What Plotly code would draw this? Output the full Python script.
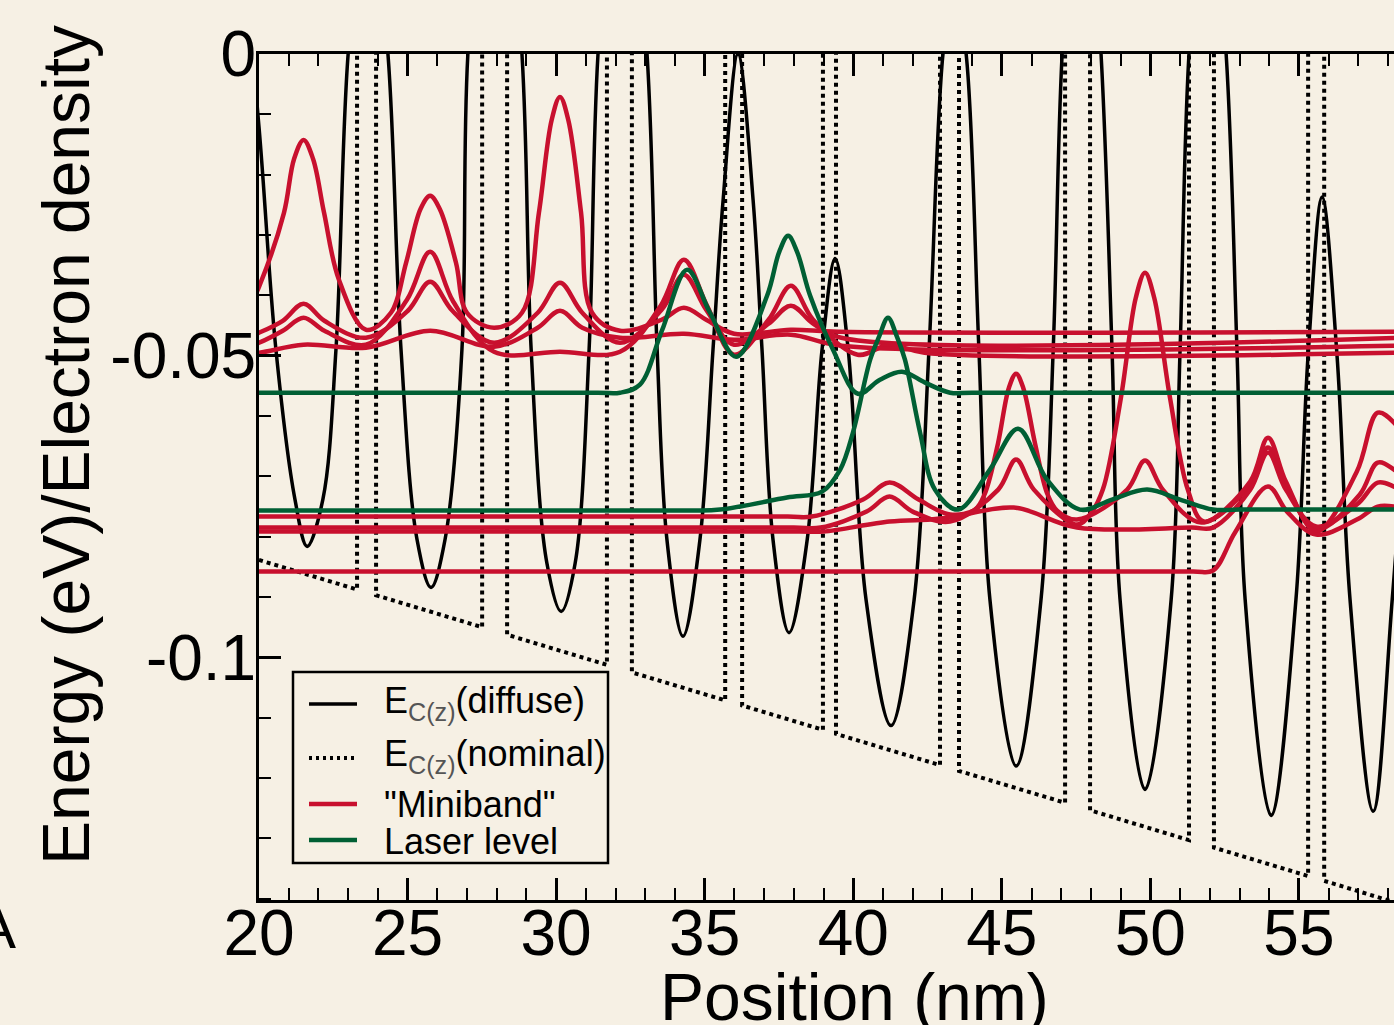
import plotly.graph_objects as go

# ---------------- data ----------------
# Diffuse conduction-band edge E_C(z): position (nm), energy (eV)
diffuse_x = [19.19, 20.00, 20.57, 21.21, 21.62, 22.15, 22.59, 23.00, 23.67, 24.34, 24.78, 25.32, 25.79,
             26.26, 26.83, 27.03, 27.94, 28.85, 29.16, 29.69, 30.17, 30.64, 31.11, 31.41, 32.22, 33.06,
             33.40, 33.73, 34.27, 34.84, 35.28, 35.62, 36.12, 36.63, 36.93, 37.30, 37.84, 38.45, 38.95,
             39.39, 39.83, 40.43, 41.27, 42.05, 42.55, 43.02, 43.39, 43.80, 44.23, 44.60, 45.48, 46.32,
             46.73, 47.03, 47.67, 48.34, 48.71, 48.98, 49.82, 50.70, 51.00, 51.30, 51.91, 52.55, 52.92,
             53.19, 54.06, 54.90, 55.31, 55.78, 56.28, 56.72, 57.50, 58.14, 58.74]
diffuse_y = [0.030, -0.0121, -0.0490, -0.0738, -0.0816, -0.0738, -0.0490, 0.0, 0.030, 0.0, -0.0490,
             -0.0805, -0.0884, -0.0805, -0.0490, 0.0, 0.050, 0.0, -0.0490, -0.0844, -0.0924, -0.0844,
             -0.0490, 0.0, 0.045, 0.0, -0.0490, -0.0805, -0.0965, -0.0805, -0.0490, -0.0242, 0.0,
             -0.0242, -0.0490, -0.0805, -0.0959, -0.0805, -0.0490, -0.0339, -0.0490, -0.0904, -0.1113,
             -0.0904, -0.0490, 0.0, 0.012, 0.0, -0.0490, -0.0904, -0.1180, -0.0904, -0.0490, 0.0, 0.045,
             0.0, -0.0490, -0.0904, -0.1219, -0.0904, -0.0490, 0.0, 0.035, 0.0, -0.0498, -0.0904,
             -0.1262, -0.0904, -0.0498, -0.0237, -0.0498, -0.0904, -0.1255, -0.0904, -0.0490]

# Nominal conduction-band edge (piecewise, barrier tops lie above the plotted window)
nominal_x = [20.0, 23.30, 23.30, 23.94, 23.94, 27.51, 27.51, 28.35, 28.35, 31.71, 31.71, 32.55, 32.55,
             35.69, 35.69, 36.26, 36.26, 38.98, 38.98, 39.42, 39.42, 42.92, 42.92, 43.56, 43.56, 47.13,
             47.13, 47.97, 47.97, 51.30, 51.30, 52.14, 52.14, 55.31, 55.31, 55.85, 55.85, 58.50]
nominal_y = [-0.08386, -0.08874, 0.15, 0.15, -0.08970, -0.09499, 0.15, 0.15, -0.09624, -0.10123, 0.15,
             0.15, -0.10248, -0.10712, 0.15, 0.15, -0.10796, -0.11200, 0.15, 0.15, -0.11267, -0.11785,
             0.15, 0.15, -0.11881, -0.12409, 0.15, 0.15, -0.12533, -0.13028, 0.15, 0.15, -0.13152,
             -0.13623, 0.15, 0.15, -0.13702, -0.14100]

# "Miniband" states (energy + electron density)
mb1_x = [19.30, 20.00, 20.84, 21.18, 21.50, 21.82, 22.19, 22.69, 23.60, 24.44, 24.95, 25.44, 25.76,
         26.08, 26.63, 27.00, 27.91, 28.85, 29.42, 29.85, 30.13, 30.41, 30.84, 31.21, 32.15, 33.55,
         34.30, 35.05, 35.99, 37.90, 39.50, 58.50]
mb1_y = [-0.0457, -0.03858, -0.02632, -0.01739, -0.01424, -0.01739, -0.02632, -0.03742, -0.04570,
         -0.04288, -0.03460, -0.02566, -0.02351, -0.02566, -0.03460, -0.04288, -0.04536, -0.04288,
         -0.02632, -0.01093, -0.00712, -0.01093, -0.02632, -0.04288, -0.04586, -0.04404, -0.04205,
         -0.04404, -0.04636, -0.04570, -0.04603, -0.04603]

mb2_x = [19.30, 20.00, 20.80, 21.50, 22.20, 23.60, 25.01, 25.76, 26.51, 27.91, 29.38, 30.13, 30.88,
         32.15, 33.55, 34.30, 35.05, 35.99, 37.15, 37.90, 38.65, 39.60, 58.50]
mb2_y = [-0.0475, -0.04619, -0.04421, -0.04139, -0.04421, -0.04702, -0.04255, -0.03775, -0.04255,
         -0.04785, -0.04288, -0.03791, -0.04288, -0.04785, -0.04238, -0.03659, -0.04238, -0.04818,
         -0.04470, -0.04172, -0.04470, -0.04702, -0.04702]

mb3_x = [19.30, 20.00, 20.80, 21.50, 22.20, 23.60, 24.98, 25.76, 26.54, 27.91, 30.13, 32.15, 33.52,
         34.30, 35.08, 35.99, 37.15, 37.90, 38.65, 40.15, 41.22, 42.40, 58.50]
mb3_y = [-0.0490, -0.04785, -0.04586, -0.04371, -0.04586, -0.04818, -0.04073, -0.03278, -0.04106,
         -0.04934, -0.04934, -0.04934, -0.04172, -0.03411, -0.04172, -0.04983, -0.04404, -0.03841,
         -0.04404, -0.04983, -0.04818, -0.04950, -0.04950]

mb4_x = [19.30, 20.00, 21.50, 23.60, 25.76, 27.91, 29.38, 30.13, 30.88, 32.15, 34.30, 35.99, 37.90,
         39.60, 58.50]
mb4_y = [-0.0497, -0.04950, -0.04818, -0.04868, -0.04586, -0.04851, -0.04536, -0.04255, -0.04536,
         -0.04702, -0.04636, -0.04735, -0.04652, -0.04834, -0.04834]

mb5_x = [20.00, 37.80, 38.60, 40.33, 41.22, 42.20, 43.26, 44.10, 44.43, 44.87, 45.24, 45.48, 45.72,
         46.12, 46.53, 46.86, 47.53, 49.22, 49.82, 50.42, 51.71, 53.36, 53.96, 54.56, 55.58, 57.05,
         57.65, 58.20, 58.90]
mb5_y = [-0.07666, -0.07666, -0.07666, -0.07384, -0.07103, -0.07384, -0.07632, -0.07550, -0.07285,
         -0.06457, -0.05530, -0.05298, -0.05530, -0.06457, -0.07285, -0.07566, -0.07715, -0.07219,
         -0.06738, -0.07219, -0.07765, -0.07136, -0.06523, -0.07136, -0.07881, -0.07300, -0.06772,
         -0.06887, -0.07219]

mb6_x = [20.00, 38.00, 38.90, 40.45, 41.22, 42.00, 43.26, 44.88, 45.48, 46.08, 47.53, 47.97, 48.40,
         49.01, 49.51, 49.82, 50.13, 50.66, 51.26, 51.80, 53.36, 53.96, 54.56, 55.58, 56.95, 57.65,
         58.20, 58.90]
mb6_y = [-0.07848, -0.07848, -0.07848, -0.07583, -0.07334, -0.07583, -0.07748, -0.07219, -0.06722,
         -0.07219, -0.07798, -0.07632, -0.07219, -0.05695, -0.04040, -0.03626, -0.04040, -0.05695,
         -0.07219, -0.07748, -0.07086, -0.06358, -0.07086, -0.07914, -0.06920, -0.05944, -0.06109,
         -0.06722]

mb7_x = [20.00, 38.20, 39.00, 41.22, 42.60, 43.26, 45.40, 47.53, 51.40, 52.11, 53.36, 53.96, 54.56,
         55.58, 56.95, 57.65, 58.20, 58.90]
mb7_y = [-0.07914, -0.07914, -0.07914, -0.07748, -0.07715, -0.07682, -0.07517, -0.07848, -0.07848,
         -0.07848, -0.07219, -0.06606, -0.07219, -0.07831, -0.07467, -0.07103, -0.07169, -0.07384]

mb8_x = [20.00, 51.40, 52.11, 52.85, 53.96, 54.60, 55.58, 56.95, 57.65, 58.20, 58.90]
mb8_y = [-0.08576, -0.08576, -0.08560, -0.07930, -0.07169, -0.07583, -0.07964, -0.07715, -0.07500,
         -0.07500, -0.07600]

# Laser levels
lz1_x = [20.00, 31.40, 32.15, 32.82, 33.56, 34.41, 35.18, 36.06, 37.10, 37.51, 37.81, 38.11, 38.55,
         39.32, 40.16, 40.90, 41.64, 42.42, 43.26, 44.00, 58.50]
lz1_y = [-0.05613, -0.05613, -0.05613, -0.05480, -0.04586, -0.03576, -0.04288, -0.05017, -0.04007,
         -0.03278, -0.03013, -0.03278, -0.04007, -0.04901, -0.05630, -0.05397, -0.05265, -0.05447,
         -0.05613, -0.05613, -0.05613]

lz2_x = [20.00, 34.50, 35.52, 37.77, 38.95, 39.56, 39.99, 40.57, 40.87, 41.17, 41.47, 41.74, 42.25,
         42.75, 43.53, 44.60, 45.55, 46.52, 47.63, 48.71, 49.89, 51.00, 52.11, 53.00, 58.50]
lz2_y = [-0.07566, -0.07566, -0.07550, -0.07351, -0.07252, -0.06887, -0.06275, -0.05066, -0.04685,
         -0.04371, -0.04685, -0.05066, -0.06275, -0.07219, -0.07550, -0.06887, -0.06209, -0.07053,
         -0.07550, -0.07384, -0.07219, -0.07384, -0.07550, -0.07550, -0.07550]

x_ticks = [20, 25, 30, 35, 40, 45, 50, 55]
x_ticktext = ["20", "25", "30", "35", "40", "45", "50", "55"]
y_ticks = [0, -0.05, -0.1]
y_ticktext = ["0", "-0.05", "-0.1"]

legend_labels = ["E<sub><span style='color:#555555'>C(z)</span></sub>(diffuse)",
                 "E<sub><span style='color:#555555'>C(z)</span></sub>(nominal)",
                 '"Miniband"',
                 "Laser level"]

# ---------------- styling ----------------
BG = "#f6f0e4"
RED = "#c8102e"
GREEN = "#005f34"
FONT = "Liberation Sans, Arial, Helvetica, sans-serif"

fig = go.Figure()

fig.add_trace(go.Scatter(x=diffuse_x, y=diffuse_y, mode="lines", name=legend_labels[0],
                         line=dict(color="black", width=3.5, shape="spline", smoothing=1.0)))
fig.add_trace(go.Scatter(x=nominal_x, y=nominal_y, mode="lines", name=legend_labels[1],
                         line=dict(color="black", width=4, dash="4px,4px")))

red_sets = [(mb1_x, mb1_y), (mb2_x, mb2_y), (mb3_x, mb3_y), (mb4_x, mb4_y),
            (mb5_x, mb5_y), (mb6_x, mb6_y), (mb7_x, mb7_y), (mb8_x, mb8_y)]
for xs, ys in red_sets:
    fig.add_trace(go.Scatter(x=xs, y=ys, mode="lines", name=legend_labels[2],
                             line=dict(color=RED, width=4.5, shape="spline", smoothing=1.0)))

green_sets = [(lz1_x, lz1_y), (lz2_x, lz2_y)]
for xs, ys in green_sets:
    fig.add_trace(go.Scatter(x=xs, y=ys, mode="lines", name=legend_labels[3],
                             line=dict(color=GREEN, width=4.5, shape="spline", smoothing=1.0)))


# paper-coordinate helpers for the hand-drawn legend (plot area: x 259..1394 px, y 54..900 px)
def px_x(p):
    return (p - 259) / 1135.0


def px_y(p):
    return (900 - p) / 846.0


shapes = [dict(type="rect", xref="paper", yref="paper", layer="above",
               x0=px_x(293), x1=px_x(608), y0=px_y(863), y1=px_y(672),
               line=dict(color="black", width=2.5), fillcolor=BG)]
sample_styles = [dict(color="black", width=3.5),
                 dict(color="black", width=4, dash="3px,4px"),
                 dict(color=RED, width=4.5),
                 dict(color=GREEN, width=4.5)]
sample_rows = [704, 758, 804, 840]
text_rows = [703, 756, 804, 841]
annotations = []
for lab, sty, ry, ty in zip(legend_labels, sample_styles, sample_rows, text_rows):
    shapes.append(dict(type="line", xref="paper", yref="paper", layer="above",
                       x0=px_x(309), x1=px_x(357), y0=px_y(ry), y1=px_y(ry), line=sty))
    annotations.append(dict(text=lab, xref="paper", yref="paper", x=px_x(382), y=px_y(ty),
                            xanchor="left", yanchor="middle", showarrow=False,
                            font=dict(family=FONT, size=36, color="black")))

annotations += [
    dict(text="Energy (eV)/Electron density", xref="paper", yref="paper",
         x=px_x(66), y=px_y(445), textangle=-90, showarrow=False,
         xanchor="center", yanchor="middle", font=dict(family=FONT, size=66, color="black")),
    dict(text="Position (nm)", xref="paper", yref="paper",
         x=px_x(854), y=px_y(997), showarrow=False,
         xanchor="center", yanchor="middle", font=dict(family=FONT, size=66, color="black")),
    dict(text="A", xref="paper", yref="paper",
         x=px_x(-4), y=px_y(927), showarrow=False,
         xanchor="center", yanchor="middle", font=dict(family=FONT, size=60, color="black")),
]

fig.update_layout(
    width=1394, height=1025, autosize=False,
    margin=dict(l=259, r=0, t=54, b=125, pad=0),
    paper_bgcolor=BG, plot_bgcolor=BG,
    font=dict(family=FONT, color="black"),
    showlegend=False,
    xaxis=dict(range=[20, 58.2], tickmode="array", tickvals=x_ticks, ticktext=x_ticktext,
               ticks="inside", ticklen=22, tickwidth=3, tickcolor="black",
               showline=True, linewidth=3, linecolor="black", mirror="ticks",
               showgrid=False, zeroline=False, ticklabelstandoff=-25,
               tickfont=dict(family=FONT, size=64, color="black"),
               minor=dict(tickmode="linear", tick0=20, dtick=1, ticks="inside", ticklen=12,
                          tickwidth=2, tickcolor="black", showgrid=False)),
    yaxis=dict(range=[-0.1402, 0.0], tickmode="array", tickvals=y_ticks, ticktext=y_ticktext,
               ticks="inside", ticklen=22, tickwidth=3, tickcolor="black",
               showline=True, linewidth=3, linecolor="black", mirror=False,
               showgrid=False, zeroline=False, ticklabelstandoff=-13,
               tickfont=dict(family=FONT, size=64, color="black"),
               minor=dict(tickmode="linear", tick0=0, dtick=0.01, ticks="inside", ticklen=12,
                          tickwidth=2, tickcolor="black", showgrid=False)),
    shapes=shapes,
    annotations=annotations,
)

fig.write_html("out.html", config={"displayModeBar": False},
               post_script="document.body.style.margin='0px';document.body.style.padding='0px';")
